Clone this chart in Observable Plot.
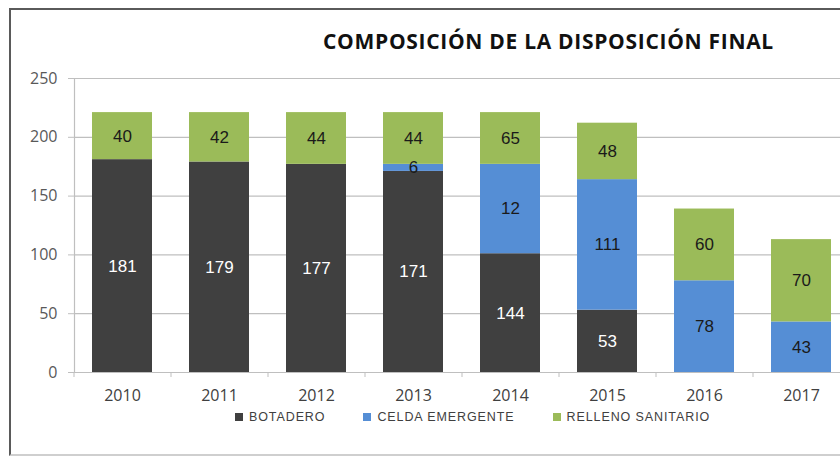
<!DOCTYPE html>
<html>
<head>
<meta charset="utf-8">
<script src="https://cdn.jsdelivr.net/npm/d3@7"></script>
<script src="https://cdn.jsdelivr.net/npm/@observablehq/plot@0.6"></script>
<style>
  html, body { margin: 0; padding: 0; background: #fff; overflow: hidden; }
  #wrap { position: relative; width: 840px; height: 460px; overflow: hidden; background: #fff; }
  #chart { position: absolute; left: 0; top: 0; }
  #border { position: absolute; left: 9px; top: 8px; width: 860px; height: 444px;
            border-left: 2px solid #5a5a5a; border-top: 2px solid #5a5a5a; border-bottom: 2px solid #cfcfcf; pointer-events: none; }
  #title { position: absolute; left: 323px; top: 28px; font-family: "Open Sans", sans-serif; font-weight: 700;
           font-size: 21px; line-height: 26px; letter-spacing: 0.7px; color: #111; white-space: nowrap; }
  #legend { position: absolute; left: 235px; top: 409px; display: flex; gap: 38px; font-family: "Liberation Sans", sans-serif;
            font-size: 12.5px; letter-spacing: 0.9px; color: #404040; line-height: 16px; }
  #legend .item { display: flex; align-items: center; }
  #legend .sw { width: 8px; height: 8px; margin-right: 6px; }
</style>
</head>
<body>
<div id="wrap">
  <div id="chart"></div>
  <div id="border"></div>
  <div id="title"></div>
  <div id="legend"></div>
</div>
<script>
const title = "COMPOSICIÓN DE LA DISPOSICIÓN FINAL";
const years = ["2010", "2011", "2012", "2013", "2014", "2015", "2016", "2017"];
const seriesNames = ["BOTADERO", "CELDA EMERGENTE", "RELLENO SANITARIO"];
const seriesColors = ["#404040", "#558ed5", "#9bbb59"];
const labelColors = ["#ffffff", "#1a1a1a", "#1a1a1a"];
// bar heights
const botadero = [181, 179, 177, 171, 101, 53, 0, 0];
const celda = [0, 0, 0, 6, 76, 111, 78, 43];
const relleno = [40, 42, 44, 44, 44, 48, 61, 70];
// printed data labels
const botaderoLabels = ["181", "179", "177", "171", "144", "53", "", ""];
const celdaLabels = ["", "", "", "6", "12", "111", "78", "43"];
const rellenoLabels = ["40", "42", "44", "44", "65", "48", "60", "70"];
const yTicks = [0, 50, 100, 150, 200, 250];

const values = [botadero, celda, relleno];
const labels = [botaderoLabels, celdaLabels, rellenoLabels];
const data = [];
seriesNames.forEach((s, si) => {
  years.forEach((y, i) => {
    data.push({year: y, series: s, value: values[si][i], label: labels[si][i]});
  });
});

const textMarks = seriesNames.map((s, si) =>
  Plot.text(data, Plot.stackY({
    x: "year", y: "value", z: "series", order: seriesNames,
    text: d => (d.series === s ? d.label : ""),
    fill: labelColors[si],
    fontSize: 17,
    fontFamily: "Liberation Sans"
  }))
);

const chart = Plot.plot({
  width: 840,
  height: 460,
  marginLeft: 74,
  marginRight: 0,
  marginTop: 78,
  marginBottom: 88,
  style: {background: "transparent", fontFamily: "Open Sans", fontSize: "16px"},
  x: {domain: years, range: [74, 850], paddingInner: 0.38, paddingOuter: 0.19},
  y: {domain: [0, 250]},
  color: {domain: seriesNames, range: seriesColors},
  marks: [
    Plot.ruleY(yTicks.filter(d => d > 0), {stroke: "#bfbfbf", strokeWidth: 1.2}),
    Plot.barY(data, {x: "year", y: "value", fill: "series", order: seriesNames}),
    Plot.ruleY([0], {stroke: "#bfbfbf", strokeWidth: 1.2}),
    Plot.frame({anchor: "left", stroke: "#bfbfbf", strokeWidth: 1.2}),
    Plot.axisY({ticks: yTicks, tickSize: 6, tickPadding: 11, stroke: "#bfbfbf", fill: "#595959", fontSize: 16, label: null}),
    Plot.axisX({tickSize: 5, tickFormat: () => "", dx: -48.5, stroke: "#bfbfbf", label: null}),
    Plot.axisX({tickSize: 0, tickPadding: 17, fill: "#404040", fontSize: 16, label: null}),
    ...textMarks
  ]
});
document.getElementById("chart").appendChild(chart);
document.getElementById("title").textContent = title;

const legend = document.getElementById("legend");
seriesNames.forEach((s, i) => {
  const item = document.createElement("div");
  item.className = "item";
  const sw = document.createElement("span");
  sw.className = "sw";
  sw.style.background = seriesColors[i];
  const t = document.createElement("span");
  t.textContent = s;
  item.appendChild(sw);
  item.appendChild(t);
  legend.appendChild(item);
});
</script>
</body>
</html>
